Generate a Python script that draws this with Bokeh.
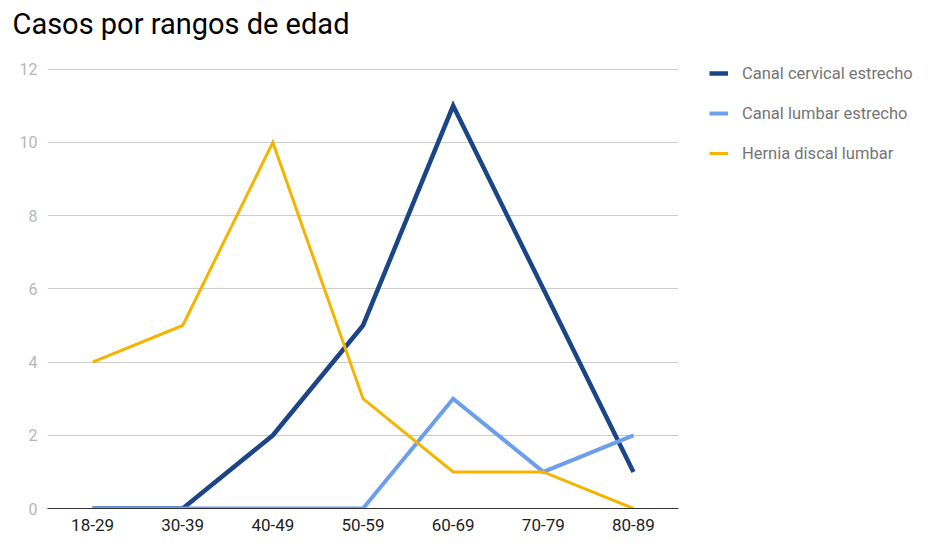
from bokeh.plotting import figure
from bokeh.models import Range1d, Legend, LegendItem, Title
from bokeh.embed import file_html
from bokeh.resources import INLINE

categories = ["18-29", "30-39", "40-49", "50-59", "60-69", "70-79", "80-89"]
cervical = [0, 0, 2, 5, 11, 6, 1]
lumbar = [0, 0, 0, 0, 3, 1, 2]
hernia = [4, 5, 10, 3, 1, 1, 0]
y_ticks = [0, 2, 4, 6, 8, 10, 12]

series_names = ["Canal cervical estrecho", "Canal lumbar estrecho", "Hernia discal lumbar"]
series_colors = ["#1c4587", "#6d9eeb", "#f4b400"]
series_widths = [4.5, 4, 3]
title_text = "Casos por rangos de edad"

FONT = "Roboto"
FRAME_W, FRAME_H = 631, 440
LEFT, TOP, BOTTOM = 47, 68, 24
RIGHT = 914 - LEFT - FRAME_W

p = figure(x_range=categories, y_range=Range1d(0, 12.02),
           frame_width=FRAME_W, frame_height=FRAME_H,
           min_border_left=LEFT, min_border_right=RIGHT, min_border_top=TOP, min_border_bottom=BOTTOM,
           output_backend="svg", toolbar_location=None)

p.outline_line_color = None
p.background_fill_color = "white"
p.border_fill_color = "white"

renderers = []
for vals, col, w in zip([cervical, lumbar, hernia], series_colors, series_widths):
    r = p.line(categories, vals, line_color=col, line_width=w, line_join="miter")
    renderers.append(r)

# spacer (closest to frame) then the real title above it
spacer = Title(text=" ", text_font_size="1px", standoff=25)
p.add_layout(spacer, "above")
main_title = Title(text=title_text, text_font=FONT, text_font_size="29px",
                   text_font_style="normal", text_color="#000000",
                   align="left", offset=-35, standoff=0)
p.add_layout(main_title, "above")

# axes
p.yaxis.ticker = y_ticks
p.yaxis.axis_line_color = None
p.yaxis.major_tick_line_color = None
p.yaxis.minor_tick_line_color = None
p.yaxis.major_label_text_font = FONT
p.yaxis.major_label_text_font_size = "16px"
p.yaxis.major_label_text_color = "#b7b7b7"
p.yaxis.major_label_standoff = 4

p.xaxis.axis_line_color = "#333333"
p.xaxis.axis_line_width = 1
p.xaxis.major_tick_line_color = None
p.xaxis.minor_tick_line_color = None
p.xaxis.major_label_text_font = FONT
p.xaxis.major_label_text_font_size = "17px"
p.xaxis.major_label_text_color = "#222222"
p.xaxis.major_label_standoff = 4

p.xgrid.grid_line_color = None
p.ygrid.grid_line_color = "#cccccc"
p.ygrid.grid_line_width = 1

legend = Legend(items=[LegendItem(label=n, renderers=[r]) for n, r in zip(series_names, renderers)],
                location=(31, 345), orientation="vertical")
legend.border_line_color = None
legend.background_fill_alpha = 0
legend.padding = 0
legend.margin = 0
legend.spacing = 20
legend.label_height = 20
legend.glyph_height = 20
legend.glyph_width = 19
legend.label_standoff = 14
legend.label_text_font = FONT
legend.label_text_font_size = "16.5px"
legend.label_text_color = "#757575"
p.add_layout(legend, "right")

open("out.html", "w").write(file_html(p, INLINE))
